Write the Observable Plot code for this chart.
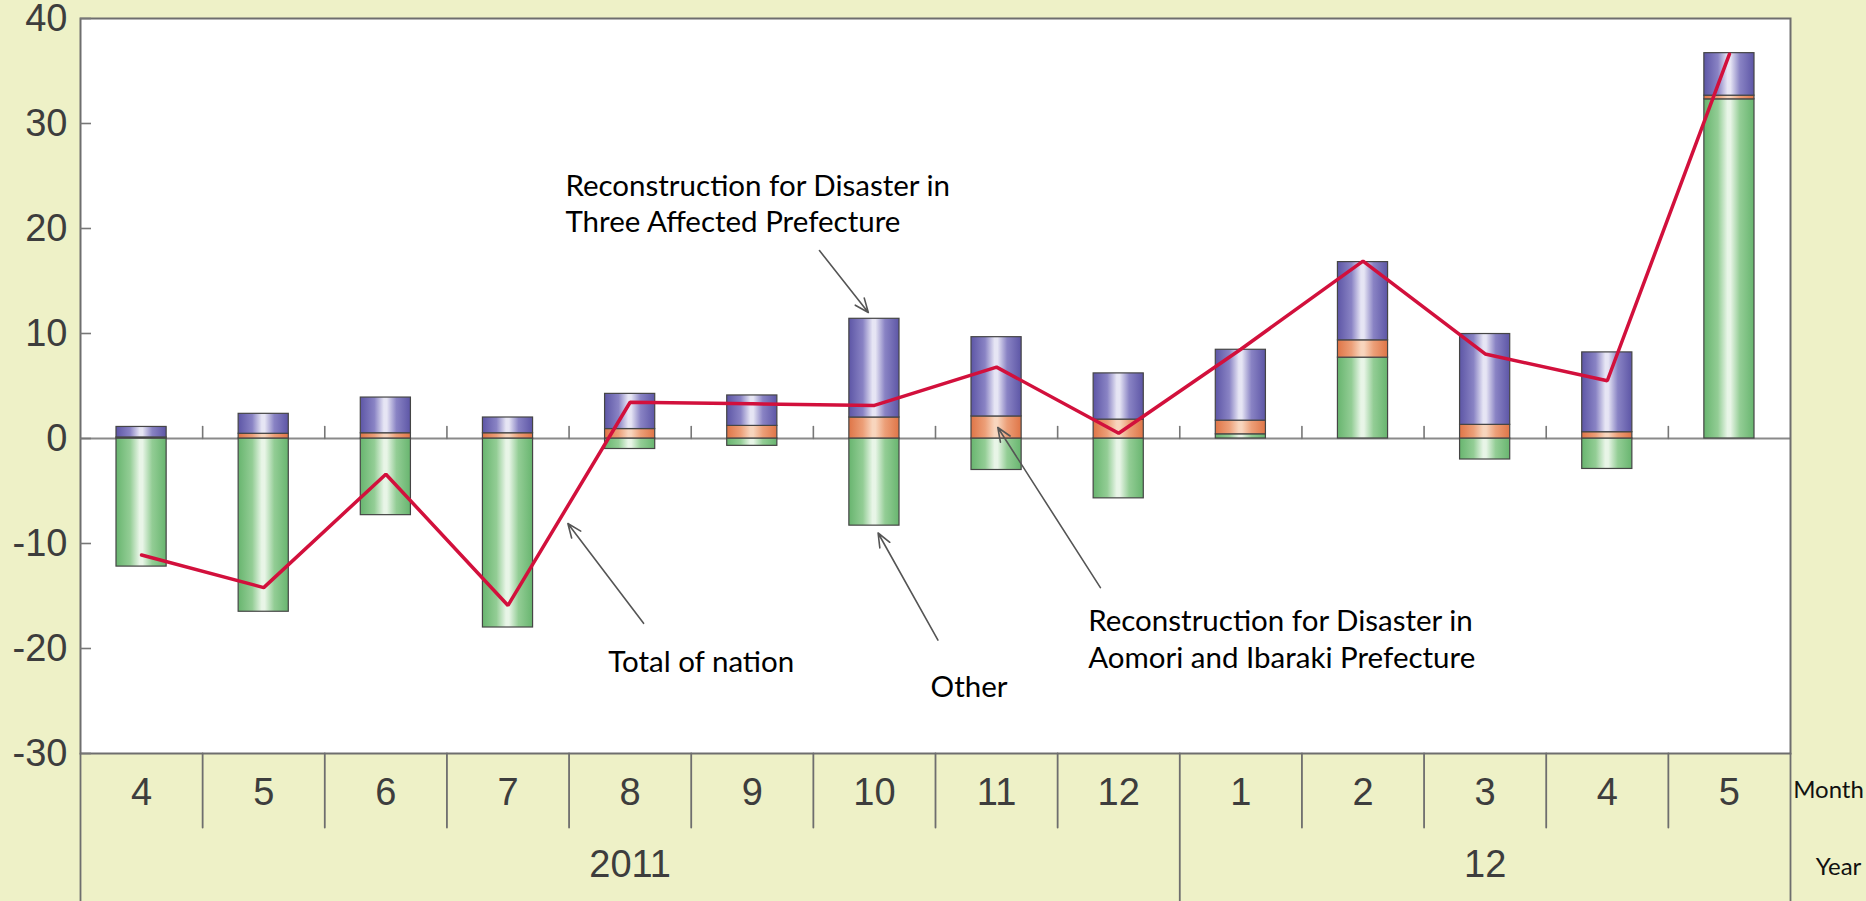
<!DOCTYPE html>
<html>
<head>
<meta charset="utf-8">
<script src="https://cdn.jsdelivr.net/npm/d3@7"></script>
<script src="https://cdn.jsdelivr.net/npm/@observablehq/plot@0.6"></script>
<style>
  html, body { margin: 0; padding: 0; background: #EEF1C7; overflow: hidden; }
  #chart svg { display: block; }
</style>
</head>
<body>
<div id="chart"></div>
<script>
// ---- Data ----
const months = ["4","5","6","7","8","9","10","11","12","1","2","3","4","5"];
const years = ["2011", "12"];
const yearStart = [0, 9];
const yearEnd = [9, 14];

const seriesNames = ["Other", "Reconstruction for Disaster in Aomori and Ibaraki Prefecture", "Reconstruction for Disaster in Three Affected Prefecture"];
const other  = [-12.2, -16.5, -7.3, -18.0, -1.0, -0.7, -8.3, -3.0, -5.7, 0.4, 7.7, -2.0, -2.9, 32.3];
const aomori = [0.1, 0.45, 0.5, 0.5, 0.9, 1.2, 2.0, 2.1, 1.8, 1.3, 1.65, 1.3, 0.6, 0.35];
const three  = [1.0, 1.9, 3.4, 1.5, 3.35, 2.9, 9.4, 7.55, 4.4, 6.75, 7.45, 8.65, 7.6, 4.05];
const total  = [-11.1, -14.2, -3.4, -15.9, 3.45, 3.3, 3.15, 6.8, 0.5, 8.5, 16.9, 8.05, 5.5, 36.6];

const yTicks = [-30, -20, -10, 0, 10, 20, 30, 40];

const annoText = [
  "Reconstruction for Disaster in\nThree Affected Prefecture",
  "Total of nation",
  "Other",
  "Reconstruction for Disaster in\nAomori and Ibaraki Prefecture"
];
const annoX = [3.97, 4.32, 6.96, 8.25];
const annoY = [22.5, -21.1, -23.5, -19.0];

const arrowX1 = [6.05, 4.61, 7.02, 8.35];
const arrowY1 = [17.9, -17.6, -19.2, -14.2];
const arrowX2 = [6.45, 3.99, 6.53, 7.51];
const arrowY2 = [12.0, -8.1, -9.0, 1.05];

// ---- Derived tables ----
const seriesValues = [other, aomori, three];
const stacked = months.flatMap((m, i) => seriesNames.map((s, k) => ({i, series: s, value: seriesValues[k][i]})));
const totals = months.map((m, i) => ({i, total: total[i]}));
const innerBounds = d3.range(1, months.length);
const shortSeps = innerBounds.filter(b => !yearStart.includes(b));
const longSeps = [0, ...yearStart.slice(1), months.length];

const lineShape = {draw(ctx, l) { ctx.moveTo(0, 0); ctx.lineTo(0, -l); }};
const textColor = "#3d3d3d";
const numFont = "'Liberation Sans', Arial, Helvetica, sans-serif";
const annoFont = "Lato, 'Open Sans', sans-serif";

const chart = Plot.plot({
  width: 1866,
  height: 901,
  marginLeft: 80,
  marginRight: 76,
  marginTop: 18,
  marginBottom: 148,
  style: {background: "transparent", fontFamily: numFont, color: textColor, overflow: "visible"},
  x: {domain: [0, months.length], axis: null},
  y: {domain: [-30, 40]},
  color: {domain: seriesNames, range: ["url(#gGreen)", "url(#gOrange)", "url(#gBlue)"]},
  marks: [
    Plot.frame({fill: "white", stroke: "none"}),
    Plot.ruleY([0], {stroke: "#8a8a8a", strokeWidth: 2.2}),
    Plot.vector(innerBounds, {x: d => d, y: () => 0, length: 12, anchor: "start", shape: lineShape, stroke: "#777", strokeWidth: 1.6}),
    Plot.rectY(stacked, {x: "i", interval: 1, y: "value", fill: "series", stroke: "#454545", strokeWidth: 1.2, insetLeft: 36, insetRight: 36}),
    Plot.lineY(totals, {x: d => d.i + 0.5, y: "total", stroke: "#D2103C", strokeWidth: 3.5, strokeLinejoin: "miter"}),
    Plot.frame({stroke: "#6e6e6e", strokeWidth: 2}),
    Plot.axisY(yTicks, {anchor: "left", tickSize: 0, tickPadding: 13, tickFormat: d => String(d), fontSize: 38, fill: textColor, label: null}),
    Plot.axisY(yTicks, {anchor: "left", tickSize: -11, fill: "none", stroke: "#777", strokeWidth: 1.6, label: null}),
    // bottom category table
    Plot.vector(shortSeps, {x: d => d, frameAnchor: "bottom", length: 74, rotate: 180, anchor: "start", shape: lineShape, stroke: "#6e6e6e", strokeWidth: 1.8}),
    Plot.vector(longSeps, {x: d => d, frameAnchor: "bottom", length: 148, rotate: 180, anchor: "start", shape: lineShape, stroke: "#6e6e6e", strokeWidth: 1.8}),
    Plot.text(months, {x: (d, i) => i + 0.5, frameAnchor: "bottom", lineAnchor: "middle", dy: 39, fontSize: 38, fill: textColor}),
    Plot.text(years, {x: (d, i) => (yearStart[i] + yearEnd[i]) / 2, frameAnchor: "bottom", lineAnchor: "middle", dy: 111, fontSize: 38, fill: textColor}),
    Plot.text(["Month"], {x: () => months.length, frameAnchor: "bottom", lineAnchor: "middle", dx: 38, dy: 37, fontSize: 24, fontFamily: annoFont, fill: "#111"}),
    Plot.text(["Year"], {x: () => months.length, frameAnchor: "bottom", lineAnchor: "middle", dx: 48, dy: 114, fontSize: 24, fontFamily: annoFont, fill: "#111"}),
    // annotations
    Plot.arrow([0, 1, 2, 3], {x1: d => arrowX1[d], y1: d => arrowY1[d], x2: d => arrowX2[d], y2: d => arrowY2[d], stroke: "#555", strokeWidth: 1.6, headLength: 14, headAngle: 45}),
    Plot.text(annoText, {x: annoX, y: annoY, textAnchor: "start", lineAnchor: "middle", lineHeight: 1.25, fontSize: 29.5, fontFamily: annoFont, fill: "#000"})
  ]
});

// gradient fills for the cylinder-like bars
const defs = d3.select(chart).insert("defs", ":first-child");
function grad(id, edge, mid, light) {
  const g = defs.append("linearGradient").attr("id", id).attr("x1", "0").attr("x2", "1").attr("y1", "0").attr("y2", "0");
  [[0, edge], [0.28, mid], [0.47, light], [0.53, light], [0.72, mid], [1, edge]].forEach(([o, c]) =>
    g.append("stop").attr("offset", o).attr("stop-color", c));
}
grad("gBlue", "#5d56a6", "#8983c4", "#e6e5f4");
grad("gGreen", "#68b56f", "#93cd95", "#e8f5e7");
grad("gOrange", "#df7547", "#ec9f78", "#f8d5bd");

document.getElementById("chart").appendChild(chart);
</script>
</body>
</html>
